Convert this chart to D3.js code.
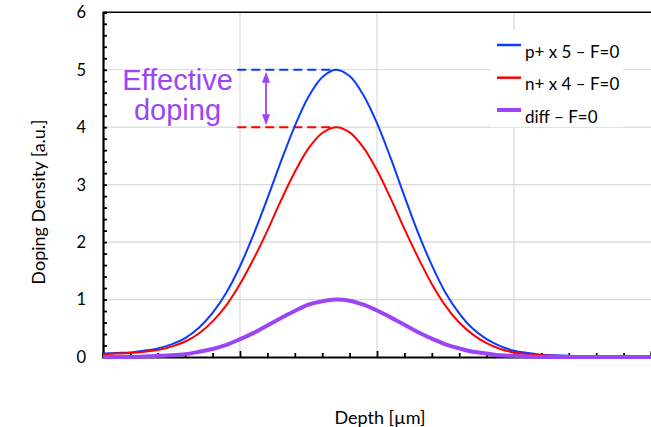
<!DOCTYPE html>
<html>
<head>
<meta charset="utf-8">
<script src="https://cdn.jsdelivr.net/npm/d3@7"></script>
<style>
  html, body { margin: 0; padding: 0; background: #fff; }
  svg { display: block; }
</style>
</head>
<body>
<svg id="chart" width="651" height="427"></svg>
<script>
// ---- data ----
const depth = [0.0,0.1,0.2,0.3,0.4,0.5,0.6,0.7,0.8,0.9,1.0,1.1,1.2,1.3,1.4,1.5,1.6,1.7,1.8,1.9,2.0,
               2.1,2.2,2.3,2.4,2.5,2.6,2.7,2.8,2.9,3.0,3.1,3.2,3.3,3.4,3.5,3.6,3.7,3.8,3.9,4.0];
const pPlus = [0.06,0.07,0.08,0.11,0.15,0.22,0.33,0.51,0.77,1.12,1.58,2.14,2.76,3.41,4.02,4.53,4.87,5.00,4.89,4.56,4.07,
               3.46,2.80,2.16,1.60,1.12,0.76,0.49,0.31,0.19,0.11,0.07,0.04,0.03,0.02,0.01,0.00,0.00,0.00,0.00,0.00];
const nPlus = [0.05,0.06,0.07,0.09,0.12,0.18,0.27,0.41,0.62,0.90,1.27,1.71,2.20,2.73,3.22,3.63,3.90,4.00,3.91,3.65,3.25,
               2.76,2.23,1.73,1.27,0.89,0.60,0.39,0.24,0.14,0.08,0.05,0.03,0.02,0.01,0.00,0.00,0.00,0.00,0.00,0.00];
const diff  = [0.00,0.00,0.00,0.01,0.02,0.03,0.05,0.09,0.14,0.21,0.31,0.42,0.55,0.68,0.80,0.91,0.97,1.00,0.98,0.91,0.81,
               0.69,0.56,0.43,0.32,0.22,0.15,0.09,0.06,0.03,0.02,0.01,0.00,0.00,0.00,0.00,0.00,0.00,0.00,0.00,0.00];
const seriesNames = ["p+ x 5 \u2013 F=0", "n+ x 4 \u2013 F=0", "diff \u2013 F=0"];
const yTickValues = [0,1,2,3,4,5,6];
const xMajorTicks = [0,1,2,3,4];
const xTitle = "Depth [\u00b5m]";
const yTitle = "Doping Density [a.u.]";
const annotationLines = ["Effective", "doping"];
// annotation anchor (data units): dashed guides from x=0.98 to peak, arrow at x=1.19
const guideStart = 0.98, guideEnd = 1.70, arrowX = 1.19, highLevel = 5, lowLevel = 4;

// ---- layout ----
const svg = d3.select("#chart");
const M = { left: 103, right: 651, top: 12.3, bottom: 357 };
const x = d3.scaleLinear().domain([0, 4]).range([M.left, M.right]);
const y = d3.scaleLinear().domain([0, 6]).range([M.bottom, M.top]);

const colors = ["#0a3bff", "#ff0000", "#9b45f5"];
const widths = [2, 2, 4];
const font = "Lato, 'Open Sans', sans-serif";

// gridlines
const grid = svg.append("g");
grid.selectAll("line.h").data(yTickValues.filter(v => v > 0 && v < 6)).join("line")
  .attr("x1", M.left).attr("x2", M.right)
  .attr("y1", d => y(d)).attr("y2", d => y(d))
  .attr("stroke", "#d9d9d9").attr("stroke-width", 1.2);
grid.selectAll("line.v").data(xMajorTicks.filter(v => v > 0 && v < 4)).join("line")
  .attr("x1", d => x(d)).attr("x2", d => x(d))
  .attr("y1", M.top).attr("y2", M.bottom)
  .attr("stroke", "#d9d9d9").attr("stroke-width", 1.2);

// top border
svg.append("line").attr("x1", M.left).attr("x2", M.right).attr("y1", M.top).attr("y2", M.top)
  .attr("stroke", "#000").attr("stroke-width", 1.5);

// y axis
const yAxis = d3.axisRight(y).tickValues(d3.range(0, 6.001, 0.2)).tickSize(4).tickFormat("");
const gy = svg.append("g").attr("transform", `translate(${M.left},0)`).call(yAxis);
gy.select(".domain").attr("stroke", "#000").attr("stroke-width", 2.2);
gy.selectAll(".tick line").attr("stroke", "#000").attr("stroke-width", 1.8);
svg.append("g").selectAll("text").data(yTickValues).join("text")
  .attr("x", 86).attr("y", d => y(d)).attr("dy", "0.36em")
  .attr("text-anchor", "end").attr("font-family", font).attr("font-size", 16.5)
  .attr("fill", "#000").text(d => d);

// x axis
const xAxis = d3.axisTop(x).tickValues(d3.range(0, 4.001, 0.2)).tickSize(4).tickFormat("");
const gx = svg.append("g").attr("transform", `translate(0,${M.bottom})`).call(xAxis);
gx.select(".domain").attr("stroke", "#000").attr("stroke-width", 2.2);
gx.selectAll(".tick line").attr("stroke", "#000").attr("stroke-width", 1.8)
  .attr("y2", d => (Math.abs(d - Math.round(d)) < 1e-6 ? -6 : -4));

// axis titles
svg.append("text").attr("x", 380).attr("y", 424).attr("text-anchor", "middle")
  .attr("font-family", font).attr("font-size", 18).attr("fill", "#000").text(xTitle);
svg.append("text").attr("transform", "translate(45,202) rotate(-90)").attr("text-anchor", "middle")
  .attr("font-family", font).attr("font-size", 18).attr("fill", "#000").text(yTitle);

// annotation dashed guides
const guides = [[highLevel, colors[0]], [lowLevel, colors[1]]];
svg.append("g").selectAll("line").data(guides).join("line")
  .attr("x1", x(guideStart)).attr("x2", x(guideEnd))
  .attr("y1", d => y(d[0])).attr("y2", d => y(d[0]))
  .attr("stroke", d => d[1]).attr("stroke-width", 2).attr("stroke-dasharray", "9,5");

// series lines
const seriesData = [pPlus, nPlus, diff];
const line = d3.line().x(d => x(d[0])).y(d => y(Math.max(0, d[1]))).curve(d3.curveCatmullRom.alpha(0.5));
seriesData.forEach((vals, i) => {
  svg.append("path").datum(depth.map((d, k) => [d, vals[k]]))
    .attr("d", line).attr("fill", "none")
    .attr("stroke", colors[i]).attr("stroke-width", widths[i])
    .attr("stroke-linejoin", "round").attr("stroke-linecap", "butt");
});

// double arrow
const purple = "#9b45f5";
const ax = x(arrowX), yTop = y(highLevel) + 2, yBot = y(lowLevel) - 2;
svg.append("line").attr("x1", ax).attr("x2", ax).attr("y1", yTop + 8).attr("y2", yBot - 8)
  .attr("stroke", purple).attr("stroke-width", 1.8);
svg.append("path").attr("fill", purple)
  .attr("d", `M${ax},${yTop} L${ax - 4},${yTop + 11} L${ax + 4},${yTop + 11} Z`);
svg.append("path").attr("fill", purple)
  .attr("d", `M${ax},${yBot} L${ax - 4},${yBot - 11} L${ax + 4},${yBot - 11} Z`);

// annotation text
svg.append("g").selectAll("text").data(annotationLines).join("text")
  .attr("x", 177.5).attr("y", (d, i) => 90 + i * 30)
  .attr("text-anchor", "middle").attr("font-family", "'Liberation Sans', Arial, sans-serif")
  .attr("font-size", 29).attr("fill", purple).text(d => d);

// legend
const lg = svg.append("g");
lg.append("rect").attr("x", 490).attr("y", 30).attr("width", 133).attr("height", 97).attr("fill", "#fff");
const rowY = [45, 77.7, 110];
seriesNames.forEach((name, i) => {
  lg.append("line").attr("x1", 497).attr("x2", 521).attr("y1", rowY[i]).attr("y2", rowY[i])
    .attr("stroke", colors[i]).attr("stroke-width", widths[i] === 4 ? 4 : 2.5);
  lg.append("text").attr("x", 525).attr("y", rowY[i] + 12.5)
    .attr("font-family", font).attr("font-size", 17).attr("fill", "#000").text(name);
});
</script>
</body>
</html>
